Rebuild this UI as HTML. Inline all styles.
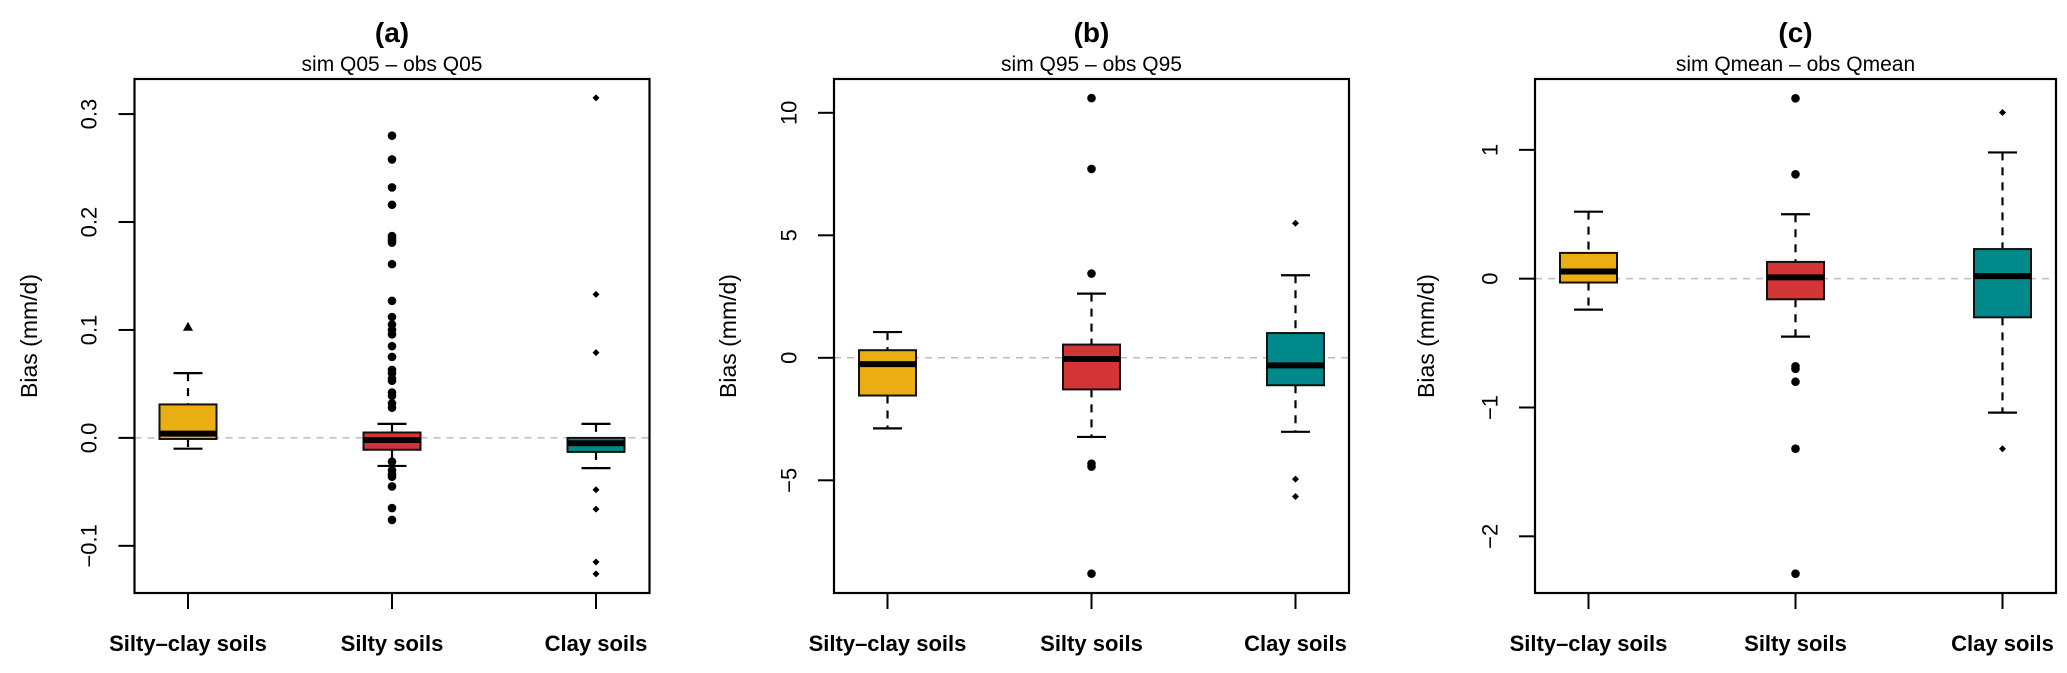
<!DOCTYPE html>
<html><head><meta charset="utf-8">
<style>
body{margin:0;background:#fff;}
svg{display:block;font-family:"Liberation Sans",Arial,sans-serif;}
</style></head>
<body>
<svg id="chart" width="2067" height="673" viewBox="0 0 2067 673" xmlns="http://www.w3.org/2000/svg"></svg>
<script>
const categories = ["Silty\u2013clay soils", "Silty soils", "Clay soils"];
const colors = ["#EAAE12", "#D33537", "#00898A"];
// stats: [wlo, q1, med, q3, whi]
const statsA = [[-0.01, -0.001, 0.004, 0.031, 0.06], [-0.026, -0.011, -0.002, 0.005, 0.013], [-0.028, -0.013, -0.005, 0.0, 0.013]];
const outA = [[0.103], [0.28,0.258,0.232,0.216,0.187,0.185,0.183,0.181,0.161,0.127,0.112,0.105,0.1,0.096,0.085,0.075,0.063,0.06,0.055,0.053,0.042,0.039,0.032,0.028,-0.022,-0.03,-0.034,-0.036,-0.045,-0.065,-0.076], [0.315,0.133,0.079,-0.048,-0.066,-0.115,-0.126]];
const statsB = [[-2.88, -1.54, -0.26, 0.31, 1.05], [-3.23, -1.29, -0.05, 0.54, 2.62], [-3.02, -1.12, -0.31, 1.01, 3.37]];
const outB = [[], [10.6,7.71,3.44,-4.32,-4.44,-8.81], [5.49,-4.95,-5.66]];
const statsC = [[-0.24, -0.03, 0.056, 0.2, 0.52], [-0.45, -0.16, 0.01, 0.13, 0.5], [-1.04, -0.3, 0.02, 0.23, 0.98]];
const outC = [[], [1.4,0.81,-0.68,-0.7,-0.8,-1.32,-2.29], [1.29,-1.32]];
const ticksA = [-0.1, 0.0, 0.1, 0.2, 0.3];
const tickLabelsA = ["\u22120.1", "0.0", "0.1", "0.2", "0.3"];
const ticksB = [-5, 0, 5, 10];
const tickLabelsB = ["\u22125", "0", "5", "10"];
const ticksC = [-2, -1, 0, 1];
const tickLabelsC = ["\u22122", "\u22121", "0", "1"];
const outShapes = [["triangle","circle","diamond"],["circle","circle","diamond"],["circle","circle","diamond"]];

const NS = "http://www.w3.org/2000/svg";
const svgEl = document.getElementById("chart");
function mk(tag, attrs, parent, text){
  const e = document.createElementNS(NS, tag);
  for (const k in attrs) e.setAttribute(k, attrs[k]);
  if (text !== undefined) e.textContent = text;
  (parent||svgEl).appendChild(e);
  return e;
}
const panels = [
  {id:"a", title:"(a)", sub:"sim Q05 \u2013 obs Q05", x0:134.5, x1:649.5, ymin:-0.1437, ymax:0.3325, stats:statsA, outs:outA, ticks:ticksA, labels:tickLabelsA, ylabX:29, tickLabX:89},
  {id:"b", title:"(b)", sub:"sim Q95 \u2013 obs Q95", x0:834, x1:1349, ymin:-9.6, ymax:11.38, stats:statsB, outs:outB, ticks:ticksB, labels:tickLabelsB, ylabX:728, tickLabX:789},
  {id:"c", title:"(c)", sub:"sim Qmean \u2013 obs Qmean", x0:1535, x1:2056, ymin:-2.44, ymax:1.55, stats:statsC, outs:outC, ticks:ticksC, labels:tickLabelsC, ylabX:1426, tickLabX:1490}
];
const plotTop=79, plotBot=593;
panels.forEach((p, pi) => {
  const g = mk("g", {});
  
  
  const y = v => plotBot - (v - p.ymin) / (p.ymax - p.ymin) * (plotBot - plotTop);
  const step = (p.x1 - p.x0 - 107) / 2;
  const xc = i => p.x0 + 53.5 + i * step;
  const cx = (p.x0 + p.x1) / 2;
  const t = mk("text", {x:cx, y:42, "text-anchor":"middle", "font-size":"28", "font-weight":"bold"}, g, p.title);
  
  
  const st = mk("text", {x:cx, y:71, "text-anchor":"middle", "font-size":"21"}, g, p.sub);
  
  
  const zl = mk("line", {x1:p.x0, x2:p.x1, y1:y(0), y2:y(0), stroke:"#bdbdbd", "stroke-width":1.5, "stroke-dasharray":"7,6"}, g);
  
  
  p.stats.forEach((s, i) => {
    const bg = mk("g", {}, g);
    
    
    const x = xc(i), hw = 28.5, cw = 14.5;
    mk("line", {x1:x, x2:x, y1:y(s[4]), y2:y(s[3]), stroke:"#000", "stroke-width":2.2, "stroke-dasharray":"8,7"}, bg);
    mk("line", {x1:x, x2:x, y1:y(s[1]), y2:y(s[0]), stroke:"#000", "stroke-width":2.2, "stroke-dasharray":"8,7"}, bg);
    mk("line", {x1:x-cw, x2:x+cw, y1:y(s[4]), y2:y(s[4]), stroke:"#000", "stroke-width":2.2}, bg);
    mk("line", {x1:x-cw, x2:x+cw, y1:y(s[0]), y2:y(s[0]), stroke:"#000", "stroke-width":2.2}, bg);
    mk("rect", {x:x-hw, y:y(s[3]), width:2*hw, height:y(s[1])-y(s[3]), fill:colors[i], stroke:"#111", "stroke-width":2}, bg);
    mk("line", {x1:x-hw, x2:x+hw, y1:y(s[2]), y2:y(s[2]), stroke:"#000", "stroke-width":6}, bg);
    p.outs[i].forEach(v => {
      const shape = outShapes[pi][i];
      const yy = y(v);
      let o;
      if (shape === "circle") o = mk("circle", {cx:x, cy:yy, r:4.3, fill:"#000"}, bg);
      else if (shape === "triangle") o = mk("polygon", {points:`${x},${yy-5} ${x-5},${yy+4} ${x+5},${yy+4}`, fill:"#000"}, bg);
      else o = mk("polygon", {points:`${x},${yy-3.5} ${x+3.5},${yy} ${x},${yy+3.5} ${x-3.5},${yy}`, fill:"#000"}, bg);
      
      
    });
    mk("line", {x1:x, x2:x, y1:plotBot, y2:plotBot+16, stroke:"#000", "stroke-width":2}, g);
    const cl = mk("text", {x:x, y:651, "text-anchor":"middle", "font-size":"22", "font-weight":"bold"}, g, categories[i]);
    
    
  });
  p.ticks.forEach((v, k) => {
    mk("line", {x1:p.x0-16, x2:p.x0, y1:y(v), y2:y(v), stroke:"#000", "stroke-width":2}, g);
    const tl = mk("text", {x:p.tickLabX, y:y(v), "text-anchor":"middle", "dominant-baseline":"central", "font-size":"22", transform:`rotate(-90 ${p.tickLabX} ${y(v)})`}, g, p.labels[k]);
    
    
  });
  const frame = mk("rect", {x:p.x0, y:plotTop, width:p.x1-p.x0, height:plotBot-plotTop, fill:"none", stroke:"#000", "stroke-width":2.2}, g);
  
  
  const yl = mk("text", {x:p.ylabX, y:336, "text-anchor":"middle", "dominant-baseline":"central", "font-size":"23", transform:`rotate(-90 ${p.ylabX} 336)`}, g, "Bias (mm/d)");
  
  
});
</script>
</body></html>
